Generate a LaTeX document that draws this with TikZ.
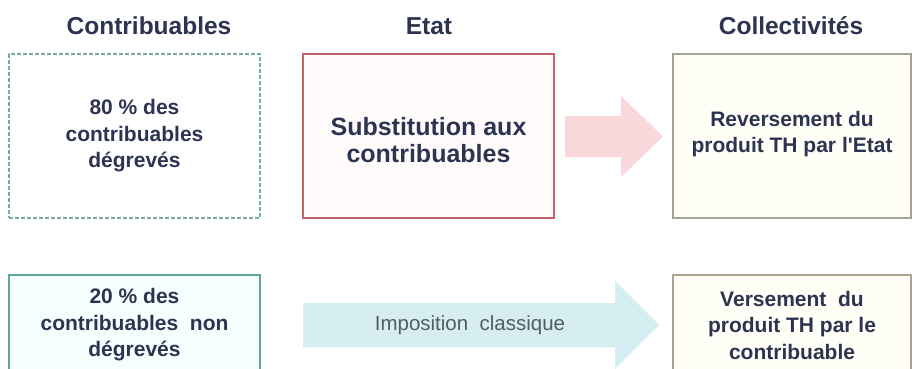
\documentclass[tikz,border=0pt]{standalone}
\usepackage{fontspec}
\setmainfont{Liberation Sans}
\definecolor{navy}{HTML}{2D3452}
\definecolor{grayt}{HTML}{4F5E66}
\definecolor{dteal}{HTML}{7AAAA6}
\definecolor{steal}{HTML}{5AA89C}
\definecolor{redb}{HTML}{C8606A}
\definecolor{tanb}{HTML}{A8A490}
\definecolor{pinkf}{HTML}{F8D8DA}
\definecolor{bluef}{HTML}{D6EEF1}
\definecolor{creamf}{HTML}{FFFFF8}
\definecolor{cyanf}{HTML}{F7FEFE}
\definecolor{pinkbg}{HTML}{FFFBFB}
\begin{document}
\begin{tikzpicture}[x=1pt,y=-1pt,
  header/.style={font=\fontsize{24.5}{28}\selectfont\bfseries, text=navy},
  boxtxt/.style={font=\fontsize{21}{26.5}\selectfont\bfseries, text=navy, align=center},
  frame/.style={minimum width=#1, minimum height=164, inner sep=0pt, line width=1.6pt},
  frame/.default=251
]
\useasboundingbox (0,0) rectangle (912,368);
\fill[white] (0,0) rectangle (912,368);
% headers
\node[header] (hC) at (149,26) {Contribuables};
\node[header] (hE) at (429,26) {Etat};
\node[header] (hL) at (791,26) {Collectivités};
% top row boxes
\node[frame, draw=dteal, dashed, dash pattern=on 4pt off 2pt, fill=white] (b1) at (134.5,136) {};
\node[frame, draw=redb, fill=pinkbg] (b2) at (428.5,136) {};
\node[frame=238, draw=tanb, fill=creamf] (b3) at (792,136) {};
\node[boxtxt] (t1) at (b1) {80 \% des\\contribuables\\dégrevés};
\node[boxtxt, font=\fontsize{25}{27}\selectfont\bfseries] (t2) at (428.5,140) {Substitution aux\\contribuables};
\node[boxtxt] (t3) at (792,134) {Reversement du\\produit TH par l\textquotesingle Etat};
% pink arrow
\fill[pinkf] (565,116) -- (621,116) -- (621,96) -- (663,136.5) -- (621,177) -- (621,157) -- (565,157) -- cycle;
% bottom row boxes
\node[frame, draw=steal, fill=cyanf] (b4) at (134.5,357) {};
\node[frame=238, draw=tanb, fill=creamf] (b6) at (792,357) {};
\node[boxtxt] (t4) at (134.5,325) {20 \% des\\contribuables~ non\\dégrevés};
\node[boxtxt] (t6) at (792,325) {Versement~ du\\produit TH par le\\contribuable};
% blue arrow
\fill[bluef] (303,303) -- (615,303) -- (615,281) -- (659,325) -- (615,369) -- (615,347) -- (303,347) -- cycle;
\node[font=\fontsize{20.5}{24}\selectfont, text=grayt] (t5) at (470,325) {Imposition~ classique};
\end{tikzpicture}
\end{document}
